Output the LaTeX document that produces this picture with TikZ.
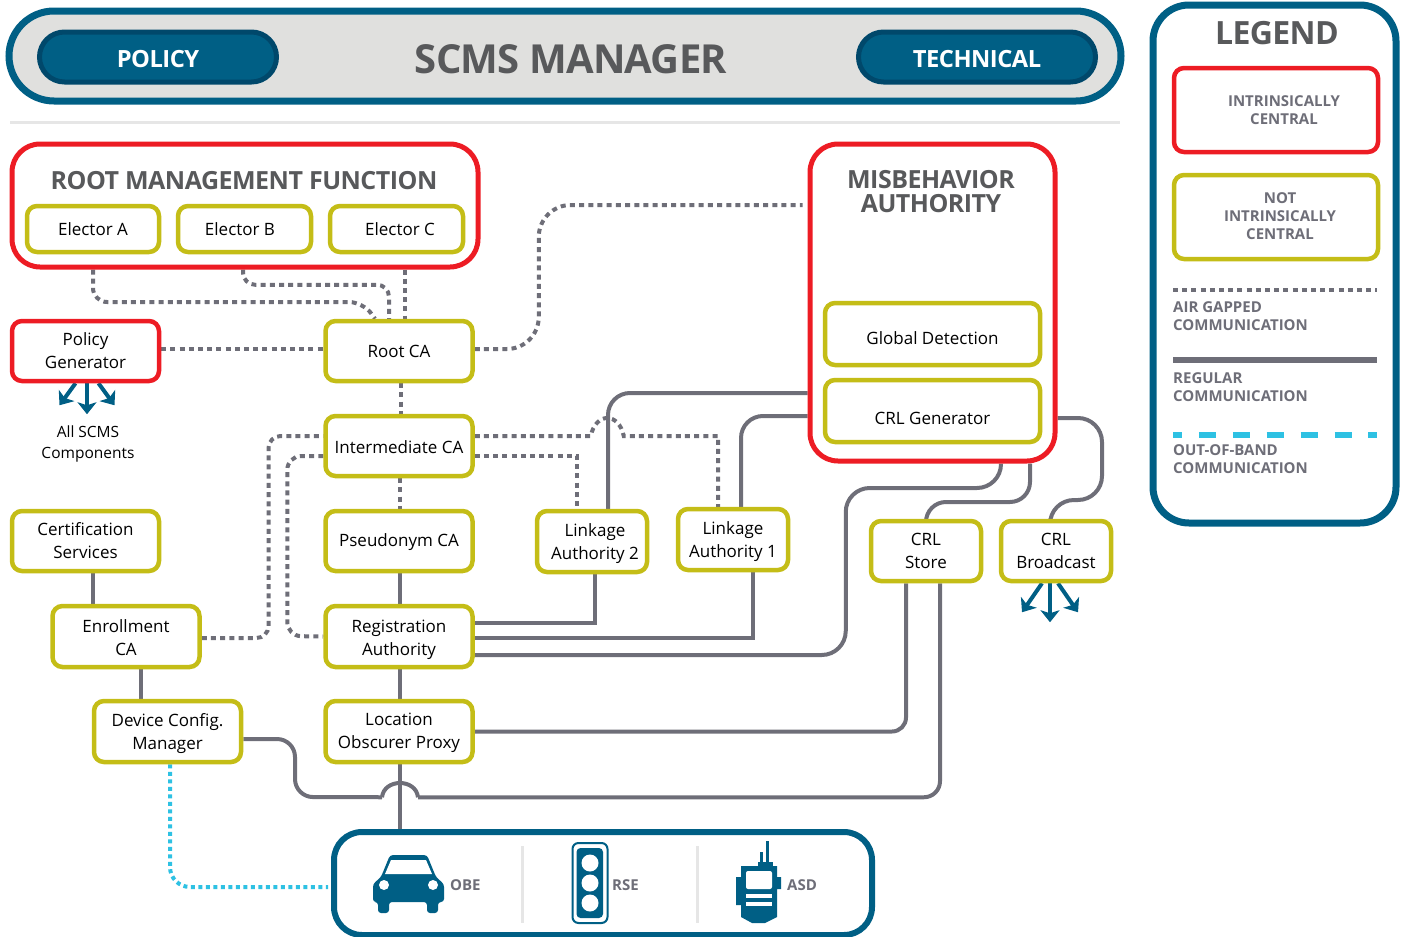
\documentclass[tikz,border=0pt]{standalone}
\usepackage{fontspec}
\setmainfont{Open Sans}
\newfontfamily\headfont[UprightFont=* Bold,LetterSpace=-2]{Open Sans}
\usetikzlibrary{arrows.meta,backgrounds}
\definecolor{scmsblue}{HTML}{005F85}
\definecolor{scmsdark}{HTML}{00486B}
\definecolor{scmsred}{HTML}{ED1C24}
\definecolor{scmsolive}{HTML}{C4BD17}
\definecolor{scmsgrey}{HTML}{6E6E78}
\definecolor{scmstitle}{HTML}{58595B}
\definecolor{scmscyan}{HTML}{2EC1E3}
\definecolor{scmspale}{HTML}{E0E0DE}
\definecolor{scmsrule}{HTML}{E6E6E6}
\newcommand{\liftline}[1]{\rule{0pt}{#1}}
\tikzset{
  box/.style={draw=scmsolive,line width=4.5pt,fill=white,rounded corners=10pt,align=center,
    inner sep=0pt,minimum width=147pt,minimum height=60pt,text=black,
    font=\fontsize{17}{23}\selectfont},
  smallbox/.style={box,minimum width=110pt},
  redbox/.style={box,draw=scmsred},
  frame/.style={draw=scmsred,line width=5pt,fill=white,rounded corners=28pt,inner sep=0pt},
  head/.style={text=scmstitle,font=\headfont\fontsize{25}{24}\selectfont,align=center,inner sep=0pt},
  pill/.style={draw=scmsdark,fill=scmsblue,line width=5pt,rounded corners=25pt,minimum width=237pt,
    minimum height=50pt,inner sep=0pt,text=white,font=\headfont\fontsize{23.7}{24}\selectfont},
  small/.style={text=scmsgrey,font=\fontsize{15}{18}\bfseries\selectfont,inner sep=0pt,align=left},
  lower/.style={execute at begin node={\rule{0pt}{#1}}},
  airgap/.style={draw=scmsgrey,line width=4pt,dash pattern=on 5pt off 4.2pt},
  regular/.style={draw=scmsgrey,line width=4pt},
  outband/.style={draw=scmscyan,line width=4pt,dash pattern=on 4pt off 3.5pt},
  fan/.style={draw=scmsblue,line width=4pt,-{Stealth[length=12pt,width=19pt,inset=3pt]}},
  icon/.style={fill=scmsblue,draw=none},
  hole/.style={fill=white,draw=none}
}
\begin{document}
\begin{tikzpicture}[x=1pt,y=-1pt]
  \useasboundingbox (0,0) rectangle (1403,937);

  \node (mgr) [draw=scmsblue,fill=scmspale,line width=7pt,rounded corners=45pt,minimum width=1112pt,minimum height=90pt] at (565,56) {};
  \node (pol) [pill,lower=21pt] at (158,57) {POLICY};
  \node (tec) [pill,lower=21pt] at (977,57) {TECHNICAL};
  \node (mgrt) [head,font=\headfont\fontsize{40}{40}\selectfont] at (571,59) {SCMS MANAGER};
  \coordinate (rula) at (10,122);
  \coordinate (rulb) at (1120,122);
  \draw[scmsrule,line width=3pt] (rula) -- (rulb);

  \node (lg) [draw=scmsblue,line width=7pt,rounded corners=36pt,minimum width=243pt,minimum height=518pt] at (1274.5,264) {};
  \node (lgt) [head,font=\headfont\fontsize{32}{32}\selectfont] at (1277,33) {LEGEND};
  \node (lgr) [redbox,rounded corners=10pt,minimum width=204pt,minimum height=84pt] at (1276,110) {};
  \node (lgo) [box,minimum width=204pt,minimum height=84pt] at (1276,217) {};
  \node (lgrt) [small,align=center] at (1284,110) {INTRINSICALLY\\CENTRAL};
  \node (lgot) [small,align=center] at (1280,216) {NOT\\INTRINSICALLY\\CENTRAL};
  \coordinate (lga) at (1173,290);
  \coordinate (lgb) at (1377,290);
  \draw[airgap] (lga) -- (lgb);
  \node (lgat) [small,anchor=west] at (1173,316) {AIR GAPPED\\COMMUNICATION};
  \coordinate (lgc) at (1173,360);
  \coordinate (lgd) at (1377,360);
  \draw[regular,line width=6pt] (lgc) -- (lgd);
  \node (lgrg) [small,anchor=west] at (1173,387) {REGULAR\\COMMUNICATION};
  \coordinate (lge) at (1173,435);
  \coordinate (lgf) at (1377,435);
  \draw[outband,line width=5.5pt,dash pattern=on 17pt off 16.9pt,dash phase=8pt] (lge) -- (lgf);
  \node (lgob) [small,anchor=west] at (1173,459) {OUT-OF-BAND\\COMMUNICATION};

  \node (rmf) [frame,minimum width=466pt,minimum height=123pt] at (245,205.5) {};
  \node (rmft) [head] at (244,181) {ROOT MANAGEMENT FUNCTION};
  \node (ela) [box,minimum width=132pt,minimum height=46pt] at (93,229) {Elector A};
  \node (elb) [box,minimum width=133pt,minimum height=46pt] at (244.5,229) {Elector B\hspace*{9pt}};
  \node (elc) [box,minimum width=133pt,minimum height=46pt] at (396.5,229) {\hspace*{7pt}Elector C};

  \node (ma) [frame,minimum width=245pt,minimum height=317pt] at (932.5,302.5) {};
  \node (mat) [head] at (931,192) {MISBEHAVIOR\\AUTHORITY};
  \node (gd) [box,minimum width=215pt,minimum height=62pt,text depth=0pt,text height=21pt] at (932.5,334) {Global Detection};
  \node (cg) [box,minimum width=215pt,minimum height=62pt,text depth=0pt,text height=27pt] at (932.5,411) {CRL Generator};

  \node (pg) [redbox] at (85.5,351) {Policy\\Generator};
  \node (rca) [box] at (399,351) {Root CA};
  \node (ica) [box,lower=15pt] at (399,446) {Intermediate CA};
  \node (pca) [box,lower=15pt] at (399,541) {Pseudonym CA};
  \node (ra) [box,minimum height=61pt] at (399,636.5) {\liftline{19pt}Registration\\Authority};
  \node (lop) [box,minimum height=61pt] at (399,731.5) {\liftline{15pt}Location\\Obscurer Proxy};
  \node (cert) [box] at (85.5,541) {Certification\\Services};
  \node (enr) [box,minimum height=61pt] at (126,636.5) {\liftline{15pt}Enrollment\\CA};
  \node (dcm) [box,minimum height=61pt] at (167.5,731.5) {\liftline{18pt}Device Config.\\Manager};
  \node (la2) [smallbox,minimum height=61pt] at (592,541.5) {\liftline{17pt}\hspace*{6pt}Linkage\\\hspace*{6pt}Authority 2};
  \node (la1) [smallbox,minimum height=61pt] at (733,539.5) {\liftline{17pt}Linkage\\Authority 1};
  \node (cs) [smallbox] at (926,551) {CRL\\Store};
  \node (cb) [smallbox] at (1056,551) {CRL\\Broadcast};
  \node (all) [inner sep=0pt,align=center,font=\fontsize{15.5}{21}\selectfont] at (88,444) {All SCMS\\Components};

  \node (dev) [draw=scmsblue,line width=6pt,fill=white,rounded corners=28pt,minimum width=538pt,minimum height=103pt] at (603,883.5) {};
  \node (obe) [small,anchor=west] at (450,885) {OBE};
  \node (rse) [small,anchor=west] at (612,885) {RSE};
  \node (asd) [small,anchor=west] at (787,885) {ASD};
  \coordinate (hop) at ([xshift=1,yshift=-33]lop.south);

  \begin{scope}[on background layer]
    \draw[airgap,rounded corners=14pt] ([xshift=-152]rmf.south) -- ++(0,32.5) -- ++(270,0) -- ([xshift=-24]rca.north);
    \draw[airgap,rounded corners=12pt] ([xshift=-2]rmf.south) |- ([xshift=-10,yshift=34]rca.north) -- ([xshift=-10]rca.north);
    \draw[airgap] ([xshift=160]rmf.south) -- ([xshift=6]rca.north);
    \draw[airgap] ([yshift=2]pg.east) -- ([yshift=2]rca.west);
    \draw[airgap,rounded corners=32pt] ([yshift=2]rca.east) -- ++(64,0) -- ++(0,-144) -- ([xshift=-5,yshift=97.5]ma.west);
    \draw[airgap] ([xshift=2]rca.south) -- ([xshift=2]ica.north);
    \draw[airgap] ([xshift=1]ica.south) -- ([xshift=1]pca.north);
    \draw[airgap,rounded corners=12pt] ([yshift=-1.5]enr.east) -- ++(66.75,0) -- ++(0,-202) -- ([yshift=10]ica.west);
    \draw[airgap,rounded corners=14pt] ([yshift=-10]ica.west) -- ++(-36,0) -- ++(0,180) -- (ra.west);
    \draw[airgap] ([yshift=10]ica.east) -- ++(116,0) .. controls +(5,-24) and +(-5,-24) .. ++(33,0) -| ([xshift=-15]la1.north);
    \draw[airgap] ([yshift=-10]ica.east) -| ([xshift=-15]la2.north);

    \draw[regular] ([xshift=1]pca.south) -- ([xshift=1]ra.north);
    \draw[regular] ([xshift=1]ra.south) -- ([xshift=1]lop.north);
    \draw[regular] ([xshift=1]lop.south) -- ([xshift=1]lop.south |- dev.north);
    \draw[regular] ([xshift=7.5]cert.south) -- ([xshift=-33]enr.north);
    \draw[regular] ([xshift=15]enr.south) -- ([xshift=-26.5]dcm.north);
    \draw[regular,rounded corners=22pt] ([xshift=16]la2.north) |- ([yshift=-90.5]ma.west);
    \draw[regular,rounded corners=22pt] ([xshift=8]la1.north) |- ([yshift=-113.5]ma.west);
    \draw[regular] ([yshift=13.5]ra.east) -| ([xshift=3]la2.south);
    \draw[regular] ([yshift=-1.5]ra.east) -| ([xshift=20]la1.south);
    \draw[regular,rounded corners=24pt] ([yshift=-18.5]ra.east) -- ++(371,0) -- ++(0,-167) -| ([xshift=68.5]ma.south);
    \draw[regular,rounded corners=20pt] ([xshift=97.5]ma.south) -- ++(0,38.5) -| (cs.north);
    \draw[regular,rounded corners=24pt] ([yshift=-115.5]ma.east) -- ++(44.5,0) -- ++(0,82) -| ([xshift=-6]cb.north);
    \draw[regular,rounded corners=14pt] (lop.east) -| ([xshift=-20]cs.south);
    \draw[regular,rounded corners=18pt] ([yshift=-7.5]dcm.east) -- ++(51.75,0) -- ++(0,58) -- ([xshift=-18]hop);
    \draw[regular] ([xshift=-18]hop) .. controls ([xshift=-16,yshift=19]hop) and ([xshift=16,yshift=19]hop) .. ([xshift=18]hop);
    \draw[regular,rounded corners=16pt] ([xshift=18]hop) -| ([xshift=14]cs.south);
    \draw[outband,rounded corners=20pt] ([xshift=2.5]dcm.south) |- ([xshift=-3,yshift=-3.5]dev.west);

    \draw[fan] ([xshift=1.5]pg.south) -- ++(0,31);
    \draw[fan] ([xshift=-10]pg.south) -- ++(-16,22);
    \draw[fan] ([xshift=13]pg.south) -- ++(16,22);
    \draw[fan] ([xshift=-6]cb.south) -- ++(0,39);
    \draw[fan] ([xshift=-14]cb.south) -- ++(-20,29);
    \draw[fan] ([xshift=2]cb.south) -- ++(20,29);
  \end{scope}

  \draw[scmsrule,line width=3pt] (522.5,846) -- (522.5,923);
  \draw[scmsrule,line width=3pt] (697,846) -- (697,923);

  \path[icon,rounded corners=3pt] (390,855) -- (427,855) -- (436,877) -- (444,884) -- (444,902) -- (438,902) -- (438,913) -- (427,913) -- (427,902) -- (389,902) -- (389,913) -- (378,913) -- (378,902) -- (373,902) -- (373,884) -- (381,877) -- cycle;
  \path[hole] (385,874) -- (391,860) -- (426,860) -- (432,874) -- cycle;
  \path[hole] (384,885) circle (5);
  \path[hole] (433,885) circle (5);

  \draw[scmsblue,line width=2pt,rounded corners=6pt] (572.5,843) rectangle (607.5,923);
  \path[icon,rounded corners=4pt] (576.5,848) rectangle (603,918);
  \path[hole] (590,863) circle (8.5);
  \path[hole] (590,883) circle (8.5);
  \path[hole] (590,903) circle (8.5);

  \path[icon] (766,841) rectangle (769,864);
  \path[icon] (760,852) rectangle (763,864);
  \path[icon] (758,862) rectangle (773,867);
  \path[icon] (741,866) -- (777,866) -- (777,877) -- (781,877) -- (781,889) -- (777,889) -- (777,917) -- (765,923) -- (752,923) -- (741,917) -- (741,905) -- (736,905) -- (736,877) -- (741,877) -- cycle;
  \path[hole,rounded corners=2pt] (746,871) rectangle (772,889);
  \path[hole] (746,894) rectangle (772,898);
  \path[hole] (746,902) rectangle (772,906);
\end{tikzpicture}
\end{document}
